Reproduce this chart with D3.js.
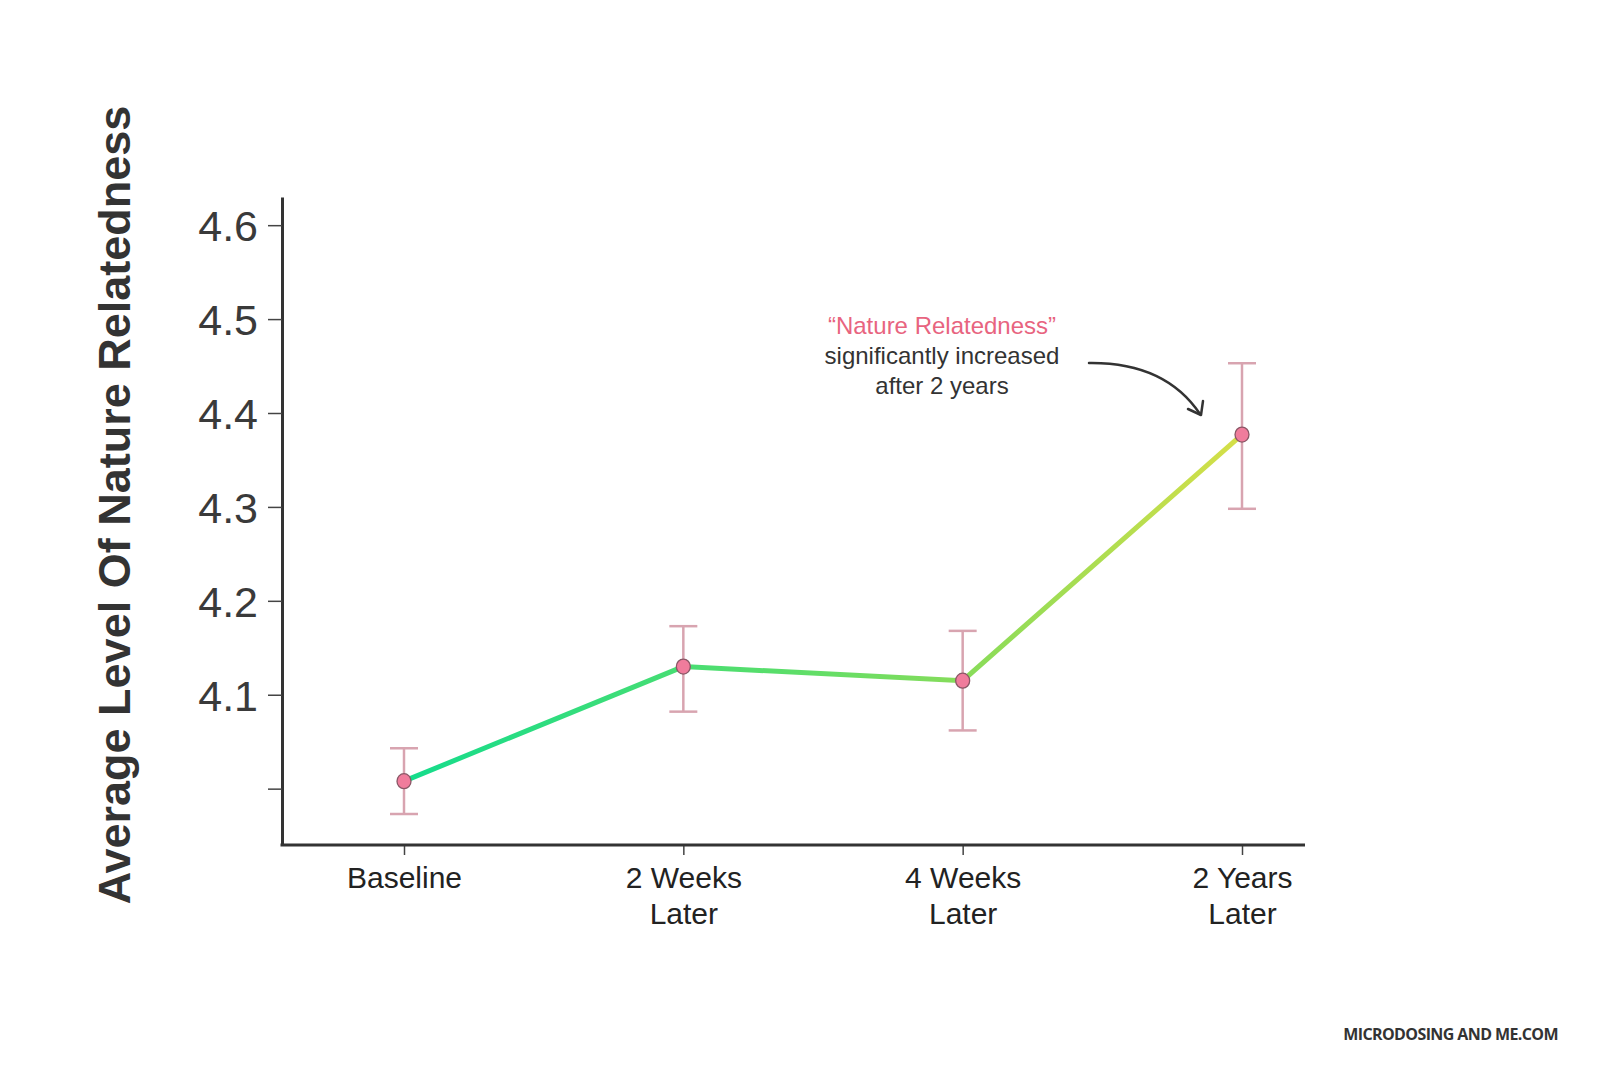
<!DOCTYPE html>
<html><head><meta charset="utf-8">
<script src="https://cdn.jsdelivr.net/npm/d3@7"></script>
<style>body{margin:0;background:#fff}svg{display:block}</style>
</head><body>
<script>
const categories = [["Baseline"], ["2 Weeks", "Later"], ["4 Weeks", "Later"], ["2 Years", "Later"]];
const means = [4.008, 4.130, 4.115, 4.377];
const upper = [4.043, 4.173, 4.168, 4.453];
const lower = [3.973, 4.082, 4.062, 4.298];
const yTicks = [4.0, 4.1, 4.2, 4.3, 4.4, 4.5, 4.6];
const yTickLabels = ["", "4.1", "4.2", "4.3", "4.4", "4.5", "4.6"];
const yTitle = "Average Level Of Nature Relatedness";
const annotation = ["\u201CNature Relatedness\u201D", "significantly increased", "after 2 years"];
const footer = "MICRODOSING AND ME.COM";

const W = 1600, H = 1067;
const svg = d3.select("body").append("svg").attr("width", W).attr("height", H);
const keys = categories.map(c => c.join(" "));

const x = d3.scalePoint().domain(keys).range([404, 1242]);
const y = d3.scaleLinear().domain([3.94, 4.63]).range([845, 197]);
const axisLeftX = 282, axisRightX = 1305;

// Y axis
const yAxis = svg.append("g").attr("transform", `translate(${axisLeftX},0)`)
  .call(d3.axisLeft(y).tickValues(yTicks).tickFormat((d, i) => yTickLabels[i]).tickSize(14).tickSizeOuter(0));
yAxis.select(".domain").attr("stroke", "#333").attr("stroke-width", 3);
yAxis.selectAll(".tick line").attr("stroke", "#444").attr("stroke-width", 1.5);
yAxis.selectAll(".tick text").attr("font-family", "Liberation Sans, Arial, sans-serif")
  .attr("font-size", 43).attr("fill", "#3a3a3a").attr("x", -24).attr("dy", "0.36em");

// X axis
const xAxis = svg.append("g").attr("transform", `translate(0,${y.range()[0]})`)
  .call(d3.axisBottom(x).tickSize(10).tickSizeOuter(0).tickFormat(() => ""));
xAxis.select(".domain").remove();
xAxis.selectAll(".tick line").attr("stroke", "#444").attr("stroke-width", 1.5);
svg.append("line").attr("x1", axisLeftX - 1.5).attr("x2", axisRightX)
  .attr("y1", y.range()[0]).attr("y2", y.range()[0]).attr("stroke", "#333").attr("stroke-width", 3);

xAxis.selectAll(".tick").each(function(d, i) {
  const t = d3.select(this).select("text").text(null)
    .attr("font-family", "Liberation Sans, Arial, sans-serif").attr("font-size", 30)
    .attr("fill", "#222").attr("y", 0).attr("dy", null);
  categories[i].forEach((line, j) => {
    t.append("tspan").attr("x", 0).attr("y", 43 + j * 36).text(line);
  });
});

// Y title
svg.append("text").attr("transform", `translate(130,505) rotate(-90)`)
  .attr("text-anchor", "middle").attr("font-family", "Liberation Sans, Arial, sans-serif")
  .attr("font-weight", "bold").attr("font-size", 45).attr("fill", "#333").text(yTitle);

// Gradient line
const defs = svg.append("defs");
const grad = defs.append("linearGradient").attr("id", "lg").attr("gradientUnits", "userSpaceOnUse")
  .attr("x1", x(keys[0])).attr("x2", x(keys[3])).attr("y1", 0).attr("y2", 0);
grad.append("stop").attr("offset", "0%").attr("stop-color", "#14dc8c");
grad.append("stop").attr("offset", "45%").attr("stop-color", "#5ade6a");
grad.append("stop").attr("offset", "70%").attr("stop-color", "#8edc58");
grad.append("stop").attr("offset", "100%").attr("stop-color", "#d6df48");

svg.append("path").datum(means)
  .attr("d", d3.line().x((d, i) => x(keys[i])).y(d => y(d)))
  .attr("fill", "none").attr("stroke", "url(#lg)").attr("stroke-width", 5).attr("stroke-linecap", "round");

// Error bars
const eb = svg.append("g").attr("stroke", "#d8a4b0").attr("stroke-width", 2.5);
means.forEach((m, i) => {
  const cx = x(keys[i]);
  eb.append("line").attr("x1", cx).attr("x2", cx).attr("y1", y(upper[i])).attr("y2", y(lower[i]));
  eb.append("line").attr("x1", cx - 14).attr("x2", cx + 14).attr("y1", y(upper[i])).attr("y2", y(upper[i]));
  eb.append("line").attr("x1", cx - 14).attr("x2", cx + 14).attr("y1", y(lower[i])).attr("y2", y(lower[i]));
});

// Points
svg.append("g").selectAll("ellipse").data(means).join("ellipse")
  .attr("cx", (d, i) => x(keys[i])).attr("cy", d => y(d)).attr("rx", 7).attr("ry", 7.5)
  .attr("fill", "#f07c9c").attr("stroke", "#8a5766").attr("stroke-width", 1.3);

// Annotation
const ann = svg.append("text").attr("text-anchor", "middle")
  .attr("font-family", "Liberation Sans, Arial, sans-serif").attr("font-size", 24);
annotation.forEach((line, j) => {
  ann.append("tspan").attr("x", 942).attr("y", 334 + j * 30).text(line)
    .attr("fill", j === 0 ? "#e8647f" : "#333");
});

// Arrow
svg.append("path").attr("d", "M1089,363 Q1165,362 1200,414")
  .attr("fill", "none").attr("stroke", "#333").attr("stroke-width", 2.5).attr("stroke-linecap", "round");
svg.append("path").attr("d", "M1188,409 L1201,415 L1203,401")
  .attr("fill", "none").attr("stroke", "#333").attr("stroke-width", 2.5).attr("stroke-linecap", "round").attr("stroke-linejoin", "round");

// Footer
svg.append("text").attr("x", 1558).attr("y", 1040).attr("text-anchor", "end")
  .attr("font-family", "Open Sans, sans-serif").attr("font-weight", 700).attr("font-size", 16)
  .attr("letter-spacing", -0.6).attr("fill", "#333").text(footer);
</script>
</body></html>
